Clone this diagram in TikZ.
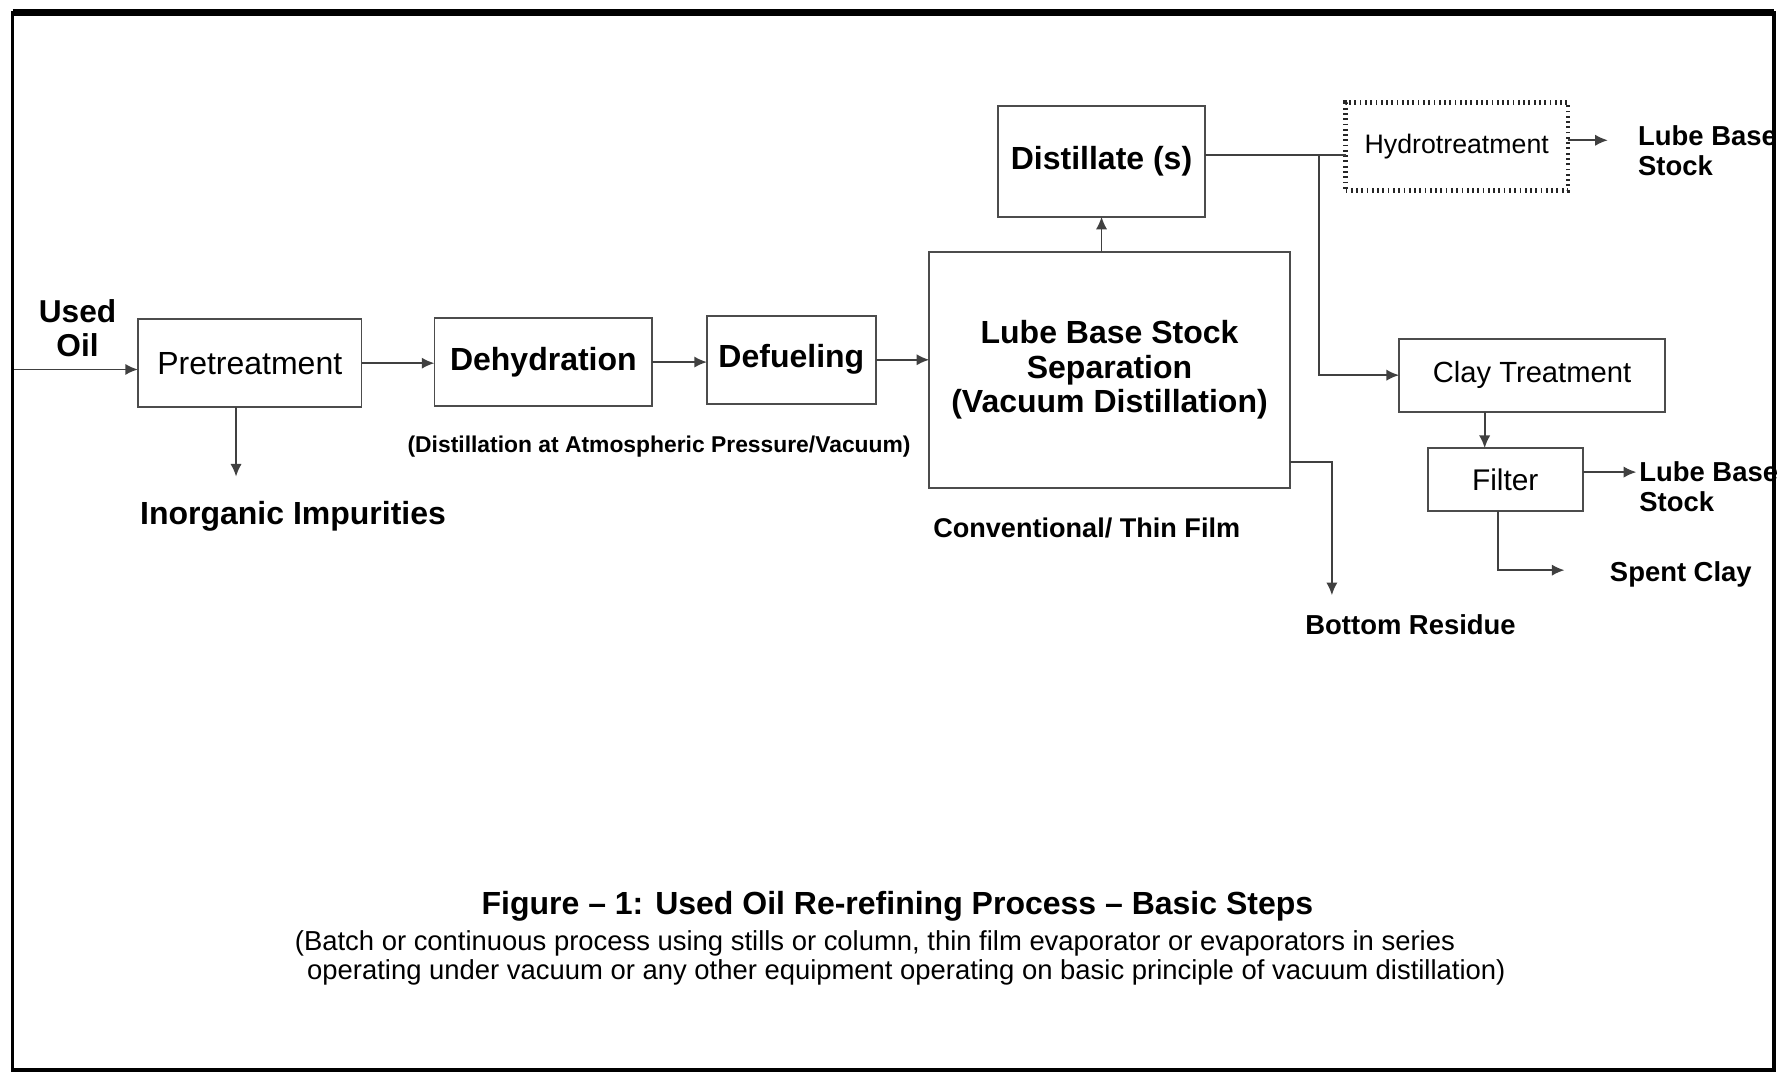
\documentclass[tikz,border=0pt]{standalone}
\usepackage{fontspec}
\setmainfont{Liberation Sans}
\usetikzlibrary{positioning,arrows.meta}
\tikzstyle{arrow} = [line width=0.5pt, draw=black!75, ->, >={Latex[length=3.6pt,width=3.2pt]}]
\tikzstyle{flow} = [line width=0.5pt, draw=black!75]
\tikzstyle{stepbox} = [draw=black!70, line width=0.5pt, inner sep=0pt, outer sep=0pt, align=center, font=\fontsize{9.1}{9.8}\selectfont\bfseries]
\tikzstyle{plainbox} = [stepbox, font=\fontsize{9.1}{9.8}\selectfont]
\tikzstyle{outtext} = [inner sep=0pt, align=left, font=\fontsize{7.8}{8.4}\selectfont\bfseries]

\begin{document}
\begin{tikzpicture}[x=0.011403cm, y=0.011403cm]
    \useasboundingbox (0,0) rectangle (1568,-942);
    \clip (0,0) rectangle (1558,-942);

    \node (pretreat) [plainbox, minimum width=2.235cm, minimum height=0.878cm] at (219,-318.5) {Pretreatment};
    \node (dehyd) [stepbox, minimum width=2.178cm, minimum height=0.878cm] at (476.5,-317.5) {Dehydration};
    \node (defuel) [stepbox, minimum width=1.688cm, minimum height=0.878cm] at (694,-315.5) {Defueling};
    \node (lubesep) [stepbox, minimum width=3.603cm, minimum height=2.360cm] at (973,-324.5) {Lube Base Stock\\Separation\\(Vacuum Distillation)};
    \node (distil) [stepbox, minimum width=2.075cm, minimum height=1.106cm] at (966,-141.5) {Distillate (s)};
    \node (hydro) [plainbox, draw=black!85, densely dotted, line width=1.3pt, minimum width=2.224cm, minimum height=0.878cm, font=\fontsize{7.6}{8}\selectfont] at (1277.5,-128.5) {Hydrotreatment};
    \node (clay) [plainbox, minimum width=2.657cm, minimum height=0.730cm, font=\fontsize{8.3}{9}\selectfont] at (1343.5,-329) {Clay Treatment};
    \node (filter) [plainbox, minimum width=1.551cm, minimum height=0.627cm, font=\fontsize{8.5}{9}\selectfont] at (1320,-420.5) {Filter};

    \node (used-oil) [align=center, font=\fontsize{9}{9.8}\selectfont\bfseries] at (68,-288) {Used\\Oil};
    \node (impurities) [font=\fontsize{9.1}{9.8}\selectfont\bfseries] at (257,-453) {Inorganic Impurities};
    \node (atm-note) [font=\fontsize{6.5}{7}\selectfont\bfseries] at (578,-392) {(Distillation at Atmospheric Pressure/Vacuum)};
    \node (film-note) [font=\fontsize{7.7}{8}\selectfont\bfseries] at (953,-463) {Conventional/ Thin Film};
    \node (lbs-hydro) [outtext, anchor=west] at (1436,-132) {Lube Base\\Stock};
    \node (lbs-filter) [outtext, anchor=west] at (1437,-427) {Lube Base\\Stock};
    \node (spent) [outtext] at (1474,-504) {Spent Clay};
    \node (residue) [outtext] at (1237,-548) {Bottom Residue};

    \coordinate (oil-in) at (11,-324);
    \draw [arrow] (oil-in) -- (oil-in -| pretreat.west);
    \draw [arrow] (pretreat.east) -- (pretreat.east -| dehyd.west);
    \draw [arrow] (dehyd.east) -- (dehyd.east -| defuel.west);
    \draw [arrow] (defuel.east) -- (defuel.east -| lubesep.west);

    \coordinate (imp-tip) at (207,-418);
    \draw [arrow] (imp-tip |- pretreat.south) -- (imp-tip);

    \draw [arrow] (lubesep.north -| distil.south) -- (distil.south);

    \coordinate (split) at (1157,-136);
    \draw [flow] (distil.east |- split) -- (split -| hydro.west);
    \draw [arrow] (split) |- (clay.west);

    \coordinate (hydro-out) at (1410,-123);
    \draw [arrow] (hydro-out -| hydro.east) -- (hydro-out);

    \coordinate (cf) at (1302,-380);
    \draw [arrow] (cf |- clay.south) -- (cf |- filter.north);

    \coordinate (filter-out) at (1435,-414);
    \draw [arrow] (filter-out -| filter.east) -- (filter-out);

    \coordinate (spent-bend) at (1314,-500);
    \coordinate (spent-tip) at (1372,-500);
    \draw [arrow] (spent-bend |- filter.south) -- (spent-bend) -- (spent-tip);

    \coordinate (res-bend) at (1168,-405);
    \coordinate (res-tip) at (1168,-522);
    \draw [arrow] (res-bend -| lubesep.east) -- (res-bend) -- (res-tip);

    \node (caption) [font=\fontsize{9.1}{10}\selectfont\bfseries] at (787,-795) {Figure – 1: Used Oil Re-refining Process – Basic Steps};
    \node (caption-note) [anchor=west, align=left, inner sep=0pt, font=\fontsize{7.8}{8.4}\selectfont] at (258,-840) {(Batch or continuous process using stills or column, thin film evaporator or evaporators in series\\\hspace*{3.5pt}operating under vacuum or any other equipment operating on basic principle of vacuum distillation)};

    \draw [line width=1.1pt] (11,-11) rectangle (1556,-938);
    \draw [line width=2pt] (11,-11) -- (1556,-11);
  \end{tikzpicture}
\end{document}
